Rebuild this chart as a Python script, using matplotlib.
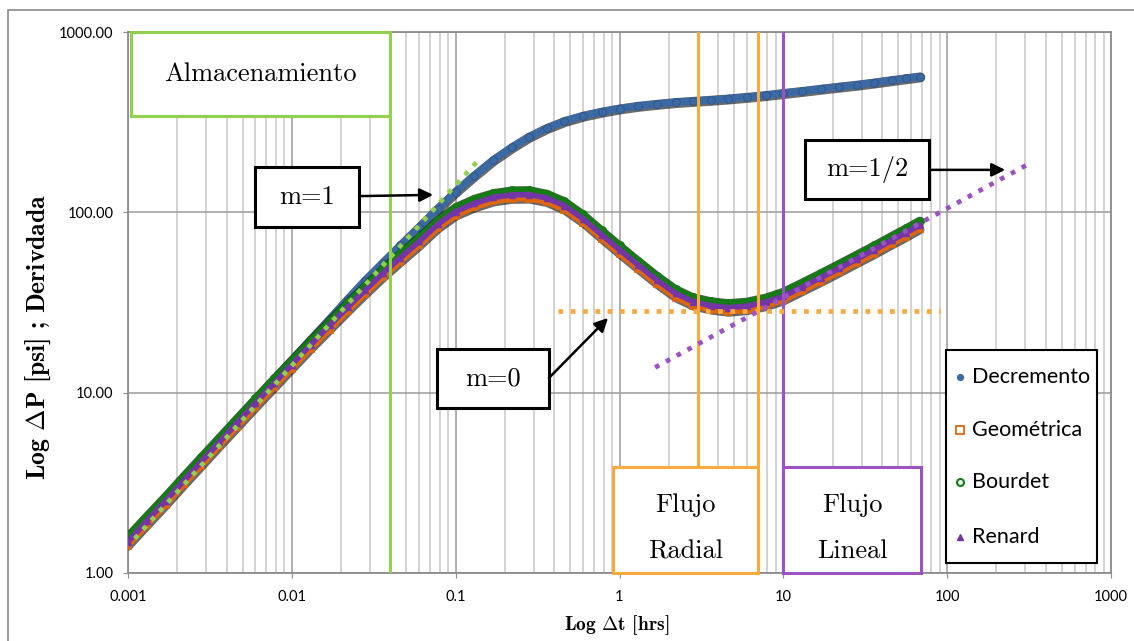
import matplotlib
matplotlib.use("Agg")
import matplotlib.pyplot as plt
import matplotlib.patheffects as pe
from matplotlib.patches import Rectangle
from matplotlib.ticker import LogLocator, NullFormatter, NullLocator

plt.rcParams['mathtext.fontset'] = 'cm'
plt.rcParams['axes.formatter.use_mathtext'] = True

# ---------------------------------------------------------------- data
t_hrs = [0.001, 0.0013, 0.0017, 0.0022, 0.0028, 0.0036, 0.0046, 0.006, 0.0078,
         0.01, 0.013, 0.017, 0.022, 0.028, 0.036, 0.046, 0.06, 0.078,
         0.1, 0.13, 0.17, 0.22, 0.28, 0.36, 0.46, 0.6, 0.78,
         1.0, 1.3, 1.7, 2.2, 2.8, 3.6, 4.6, 6.0, 7.8,
         10, 13, 17, 22, 28, 36, 46, 56, 68]

dp_decremento = [1.52, 1.98, 2.58, 3.34, 4.25, 5.46, 6.97, 9.08, 11.8,
                 15.1, 19.6, 25.5, 33.0, 41.8, 52.5, 65.5, 83, 105,
                 130, 160, 195, 229, 262, 293, 320, 343, 361,
                 376, 389, 399, 408, 414, 420, 427, 436, 446,
                 458, 470, 484, 497, 509, 524, 540, 553, 566]

der_geometrica = [1.42, 1.84, 2.39, 3.10, 3.93, 5.04, 6.41, 8.31, 10.7,
                  13.6, 17.5, 22.4, 28.4, 35.2, 43.7, 53.2, 65.5, 81.7,
                  96, 106.4, 115, 118.8, 119.2, 114, 103.5, 87.4, 71.3,
                  58.9, 48.5, 39.9, 33.7, 30.4, 28.9, 28.1, 28.7, 30.2,
                  32.5, 36.6, 41.3, 46.6, 52.3, 58.9, 66.5, 73.2, 80.8]

der_bourdet = [1.60, 2.07, 2.68, 3.47, 4.40, 5.63, 7.17, 9.3, 12.0,
               15.2, 19.5, 25.0, 31.7, 39.2, 48.8, 59.4, 73, 91,
               107, 119, 128, 132.5, 133, 127, 115.5, 97.5, 79.5,
               65.7, 54, 44.5, 37.6, 33.9, 32.2, 31.4, 32.0, 33.7,
               36.3, 40.8, 46.1, 52, 58.3, 65.7, 74.2, 81.6, 90]

der_renard = [1.49, 1.94, 2.52, 3.26, 4.14, 5.3, 6.75, 8.75, 11.3,
              14.3, 18.4, 23.6, 29.9, 37.0, 46.0, 56, 69, 86,
              101, 112, 121, 125, 125.5, 120, 109, 92, 75,
              62, 51, 42, 35.5, 32, 30.4, 29.6, 30.2, 31.8,
              34.2, 38.5, 43.5, 49, 55, 62, 70, 77, 85]

# straight-line diagnostic guides (unit slope, flat, half slope)
slope1_t = [0.0011, 0.14]
slope1_p = [1.55, 198]
slope0_t = [0.42, 90]
slope0_p = [28.5, 28.5]
slope_half_t = [1.65, 330]
slope_half_p = [13.8, 190]

# flow regime limits [hrs]
storage_end = 0.04
radial_start, radial_end = 3, 7
linear_start, linear_end = 10, 69

x_ticks = [0.001, 0.01, 0.1, 1, 10, 100, 1000]
x_tick_labels = ["0.001", "0.01", "0.1", "1", "10", "100", "1000"]
y_ticks = [1, 10, 100, 1000]
y_tick_labels = ["1.00", "10.00", "100.00", "1000.00"]

series_labels = ["Decremento", "Geométrica", "Bourdet", "Renard"]

# ---------------------------------------------------------------- colours
c_dec = '#3b69a3'
c_geo = '#e0660e'
c_bou = '#147c14'
c_ren = '#7436a6'
c_lgreen = '#92d050'
c_lorange = '#fbaa40'
c_lpurple = '#9c52c2'

W, H = 1134, 641
AX_L, AX_R, AX_T, AX_B = 128, 1111, 32, 573
fig = plt.figure(figsize=(W / 100, H / 100), dpi=100)
ax = fig.add_axes([AX_L / W, (H - AX_B) / H, (AX_R - AX_L) / W, (AX_B - AX_T) / H])
ax.set_xscale('log')
ax.set_yscale('log')
ax.set_xlim(0.001, 1000)
ax.set_ylim(1, 1000)


def axfrac(px, py):
    """Pixel position on the canvas -> axes fraction."""
    return (px - AX_L) / (AX_R - AX_L), (AX_B - py) / (AX_B - AX_T)


# outer chart frame
fig.add_artist(Rectangle((8 / W, -0.05), 1.2, 1 - 10 / H + 0.05,
                         transform=fig.transFigure, fill=False,
                         ec='#8a8a8a', lw=1.2))

# ---------------------------------------------------------------- axes styling
ax.set_xticks(x_ticks, x_tick_labels)
ax.set_yticks(y_ticks, y_tick_labels)
ax.xaxis.set_minor_locator(LogLocator(base=10, subs=range(2, 10), numticks=20))
ax.xaxis.set_minor_formatter(NullFormatter())
ax.yaxis.set_minor_locator(NullLocator())
ax.set_axisbelow(True)
ax.grid(which='major', color='#9a9a9a', lw=1.1)
ax.grid(which='minor', axis='x', color='#c8c8c8', lw=1.1)
ax.tick_params(which='minor', length=0)
ax.tick_params(axis='x', which='major', length=3.6, color='#8c8c8c', pad=8.5,
               labelsize=10.5)
ax.tick_params(axis='y', which='major', length=3.6, color='#8c8c8c', pad=7,
               labelsize=10.5)
for lab in ax.get_xticklabels() + ax.get_yticklabels():
    lab.set_fontfamily('Lato')
for sp in ax.spines.values():
    sp.set_color('#8c8c8c')
    sp.set_linewidth(1.3)

ax.set_xlabel(r"Log $\Delta$t [hrs]", fontfamily='cmb10', fontsize=14)
ax.xaxis.set_label_coords(0.497, -0.096)
ax.xaxis.label.set_verticalalignment('center')
ax.set_ylabel(r"Log $\Delta$P [psi] ; Derivdada", fontfamily='cmb10',
              fontsize=18.5)
ax.yaxis.set_label_coords(-0.0916, 0.436)
ax.yaxis.label.set_verticalalignment('center')


# ---------------------------------------------------------------- curves
def shadow(lw):
    return [pe.Stroke(linewidth=lw + 1.8, foreground='#1a1a1a', alpha=0.65,
                      offset=(0.4, -0.6)), pe.Normal()]


ax.plot(t_hrs, dp_decremento, color=c_dec, lw=5.4, solid_capstyle='round',
        path_effects=shadow(5.4), zorder=3)
ax.plot(t_hrs, dp_decremento, ls='none', marker='o', ms=5.6, mfc=c_dec,
        mec='#2c5485', mew=0.6, zorder=3.1)

ax.plot(t_hrs, der_geometrica, color=c_geo, lw=4.2, solid_capstyle='round',
        path_effects=shadow(4.2), zorder=4)
ax.plot(t_hrs, der_geometrica, ls='none', marker='s', ms=5, mfc='none',
        mec=c_geo, mew=1.2, zorder=4.1)

ax.plot(t_hrs, der_bourdet, color=c_bou, lw=4.4, solid_capstyle='round',
        path_effects=[pe.Stroke(linewidth=5.6, foreground='#0b2b0b',
                                alpha=0.75), pe.Normal()], zorder=5)
ax.plot(t_hrs, der_bourdet, ls='none', marker='o', ms=5, mfc='none',
        mec=c_bou, mew=1.4, zorder=5.1)

ax.plot(t_hrs, der_renard, color=c_ren, lw=4.0, solid_capstyle='round',
        zorder=6)
ax.plot(t_hrs, der_renard, ls='none', marker='^', ms=4.2, mfc=c_ren,
        mec=c_ren, zorder=6.1)

# ---------------------------------------------------------------- guides
dot = dict(lw=3.4, ls=(0, (1, 1.6)), dash_capstyle='butt', zorder=7)
ax.plot(slope1_t, slope1_p, color=c_lgreen, **dot)
ax.plot(slope0_t, slope0_p, color=c_lorange, **dot)
ax.plot(slope_half_t, slope_half_p, color=c_lpurple, **dot)

ax.plot([storage_end, storage_end], [1, 1000], color=c_lgreen, lw=2.2, zorder=6.5)
ax.plot([radial_start, radial_start], [1, 1000], color=c_lorange, lw=2.2, zorder=6.5)
ax.plot([radial_end, radial_end], [1, 1000], color=c_lorange, lw=2.2, zorder=6.5)
ax.plot([linear_start, linear_start], [1, 1000], color=c_lpurple, lw=2.2, zorder=6.5)


def box(x0, x1, y0, y1, ec, lines, ys=None, z=8):
    ax.add_patch(Rectangle((x0, y0), x1 - x0, y1 - y0, fc='white', ec=ec,
                           lw=2.2, zorder=z, clip_on=False))
    xc = (x0 * x1) ** 0.5
    if ys is None:
        ys = [(y0 * y1) ** 0.5]
    for txt, yc in zip(lines, ys):
        ax.text(xc, yc, txt, ha='center', va='center', fontfamily='cmr10',
                fontsize=19, zorder=z + 0.5)


box(0.00104, storage_end, 343, 1000, c_lgreen, ["Almacenamiento"])
box(0.91, radial_end, 1.0, 3.87, c_lorange, ["Flujo", "Radial"], ys=[2.37, 1.32])
box(linear_start, linear_end, 1.0, 3.87, c_lpurple, ["Flujo", "Lineal"], ys=[2.37, 1.32])

box(0.00596, 0.0257, 83.0, 178.6, 'black', ["m=1"], z=9)
box(13.6, 77.6, 118.7, 252, 'black', ["m=1/2"], z=9)
box(0.077, 0.371, 8.23, 17.5, 'black', ["m=0"], z=9)

arrow = dict(arrowstyle='-|>', lw=1.8, color='black', mutation_scale=20,
             shrinkA=0, shrinkB=0)
ax.annotate("", xy=(0.0728, 125), xytext=(0.0257, 123), arrowprops=arrow, zorder=9)
ax.annotate("", xy=(226, 172), xytext=(77.6, 172), arrowprops=arrow, zorder=9)
ax.annotate("", xy=(0.851, 25.96), xytext=(0.371, 12.07), arrowprops=arrow, zorder=9)

# ---------------------------------------------------------------- legend
(lx0, ly1), (lx1, ly0) = axfrac(946, 350), axfrac(1097, 563)
ax.add_patch(Rectangle((lx0, ly0), lx1 - lx0, ly1 - ly0, transform=ax.transAxes,
                       fc='white', ec='black', lw=1.5, zorder=10))
legend_markers = [
    dict(marker='o', ms=4.2, mfc=c_dec, mec=c_dec),
    dict(marker='s', ms=5.5, mfc='white', mec=c_geo, mew=1.3),
    dict(marker='o', ms=5, mfc='white', mec=c_bou, mew=1.5),
    dict(marker='^', ms=4, mfc=c_ren, mec=c_ren),
]
for label, mk, row_y in zip(series_labels, legend_markers, [377, 430, 482, 537]):
    mx, my = axfrac(960, row_y)
    ax.plot([mx], [my], ls='none', transform=ax.transAxes, zorder=11,
            clip_on=False, **mk)
    tx, ty = axfrac(972, row_y)
    ax.text(tx, ty, label, transform=ax.transAxes, ha='left', va='center',
            fontfamily='Lato', fontsize=15.5, zorder=11)

fig.savefig("out.png", dpi=100)
